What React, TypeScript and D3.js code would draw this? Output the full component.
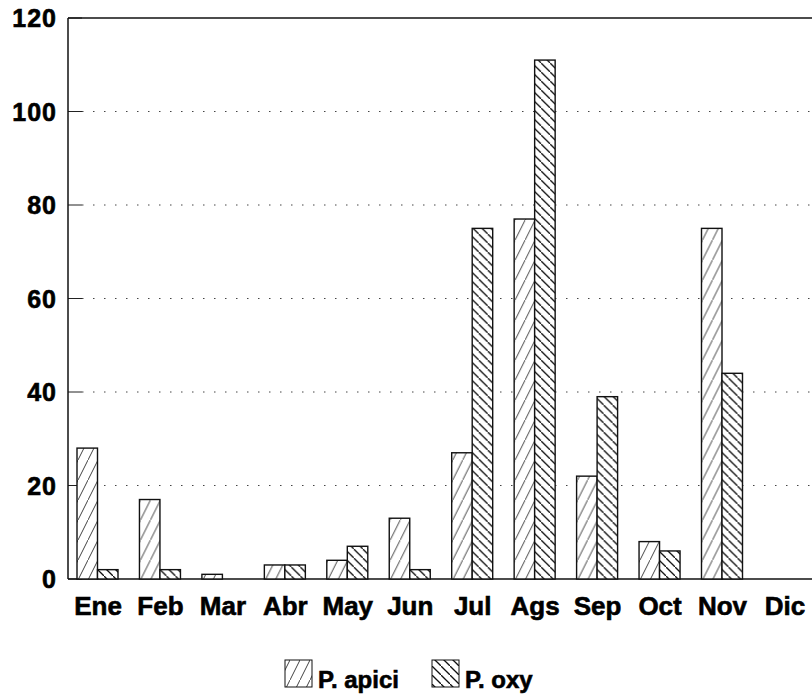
import * as d3 from 'd3'
import { useEffect, useRef } from 'react'

const months = ['Ene', 'Feb', 'Mar', 'Abr', 'May', 'Jun', 'Jul', 'Ags', 'Sep', 'Oct', 'Nov', 'Dic']
const apici = [28, 17, 1, 3, 4, 13, 27, 77, 22, 8, 75, 0]
const oxy = [2, 2, 0, 3, 7, 2, 75, 111, 39, 6, 44, 0]
const seriesNames = ['P. apici', 'P. oxy']
const yTicks = [0, 20, 40, 60, 80, 100, 120]

const W = 812
const H = 696
const margin = { top: 18, left: 68, bottom: 117 }
const font = '"Liberation Sans", Arial, sans-serif'

export default function App() {
    const ref = useRef(null)

    useEffect(() => {
        const svg = d3.select(ref.current)
        svg.selectAll('*').remove()

        const defs = svg.append('defs')
        const pA = defs.append('pattern')
            .attr('id', 'hatchA')
            .attr('patternUnits', 'userSpaceOnUse')
            .attr('width', 10).attr('height', 20)
        pA.append('rect').attr('width', 10).attr('height', 20).attr('fill', '#fff')
        pA.append('path').attr('d', 'M-1,22 L11,-2').attr('stroke', '#111').attr('stroke-width', 0.8)

        const pB = defs.append('pattern')
            .attr('id', 'hatchB')
            .attr('patternUnits', 'userSpaceOnUse')
            .attr('width', 9).attr('height', 9)
        pB.append('rect').attr('width', 9).attr('height', 9).attr('fill', '#fff')
        pB.append('path').attr('d', 'M-1,-1 L10,10').attr('stroke', '#111').attr('stroke-width', 1.3)
        const fills = ['url(#hatchA)', 'url(#hatchB)']

        const x0 = d3.scaleBand().domain(months).range([margin.left, margin.left + 12 * 62.45])
        const x1 = d3.scaleBand().domain(seriesNames).range([9, 50])
        const y = d3.scaleLinear().domain([0, 120]).range([H - margin.bottom, margin.top])

        // dotted gridlines
        svg.append('g')
            .selectAll('line')
            .data(yTicks.filter(t => t > 0 && t < 120))
            .join('line')
            .attr('x1', margin.left + 14).attr('x2', W)
            .attr('y1', d => y(d)).attr('y2', d => y(d))
            .attr('stroke', '#444')
            .attr('stroke-width', 1)
            .attr('stroke-dasharray', '1.5,9.5')

        // tick marks
        svg.append('g')
            .selectAll('line')
            .data(yTicks)
            .join('line')
            .attr('x1', margin.left).attr('x2', margin.left + 14)
            .attr('y1', d => y(d)).attr('y2', d => y(d))
            .attr('stroke', '#222')

        // frame lines
        svg.append('line')
            .attr('x1', margin.left).attr('x2', W)
            .attr('y1', y(120)).attr('y2', y(120))
            .attr('stroke', '#111').attr('stroke-width', 1.5)
        svg.append('line')
            .attr('x1', margin.left).attr('x2', W)
            .attr('y1', y(0)).attr('y2', y(0))
            .attr('stroke', '#111').attr('stroke-width', 1.5)
        svg.append('line')
            .attr('x1', margin.left).attr('x2', margin.left)
            .attr('y1', y(120)).attr('y2', y(0))
            .attr('stroke', '#111').attr('stroke-width', 1.5)

        // bars
        const groups = svg.append('g')
            .selectAll('g')
            .data(months)
            .join('g')
            .attr('transform', d => `translate(${x0(d)},0)`)

        groups.selectAll('rect')
            .data((d, i) => [apici[i], oxy[i]].map((v, j) => ({ key: seriesNames[j], v, j })))
            .join('rect')
            .filter(d => d.v > 0)
            .attr('x', d => x1(d.key))
            .attr('width', x1.bandwidth())
            .attr('y', d => y(d.v))
            .attr('height', d => y(0) - y(d.v))
            .attr('fill', d => fills[d.j])
            .attr('stroke', '#111')
            .attr('stroke-width', 1.4)

        // y labels
        svg.append('g')
            .selectAll('text')
            .data(yTicks)
            .join('text')
            .attr('x', 57)
            .attr('y', d => y(d))
            .attr('dy', '0.36em')
            .attr('text-anchor', 'end')
            .attr('font-family', font)
            .attr('font-weight', 'bold')
            .attr('font-size', 25)
            .attr('letter-spacing', 1)
            .attr('stroke', '#000')
            .attr('stroke-width', 0.6)
            .text(d => d)

        // x labels
        svg.append('g')
            .selectAll('text')
            .data(months)
            .join('text')
            .attr('x', d => x0(d) + 30)
            .attr('y', 615)
            .attr('text-anchor', 'middle')
            .attr('font-family', font)
            .attr('font-weight', 'bold')
            .attr('font-size', 26)
            .attr('stroke', '#000')
            .attr('stroke-width', 0.6)
            .text(d => d)

        // legend
        const legend = svg.append('g')
        const lx = [285, 432]
        seriesNames.forEach((name, i) => {
            legend.append('rect')
                .attr('x', lx[i]).attr('y', 660)
                .attr('width', 27).attr('height', 27)
                .attr('fill', fills[i])
                .attr('stroke', '#111')
                .attr('stroke-width', 1)
            legend.append('text')
                .attr('x', lx[i] + 33).attr('y', 688)
                .attr('font-family', font)
                .attr('font-weight', 'bold')
                .attr('font-size', 24)
                .attr('stroke', '#000')
                .attr('stroke-width', 0.6)
                .text(name)
        })
    }, [])

    return (
        <svg ref={ref} width={W} height={H} style={{ display: 'block', position: 'absolute', left: 0, top: 0, background: '#fff' }} />
    )
}
